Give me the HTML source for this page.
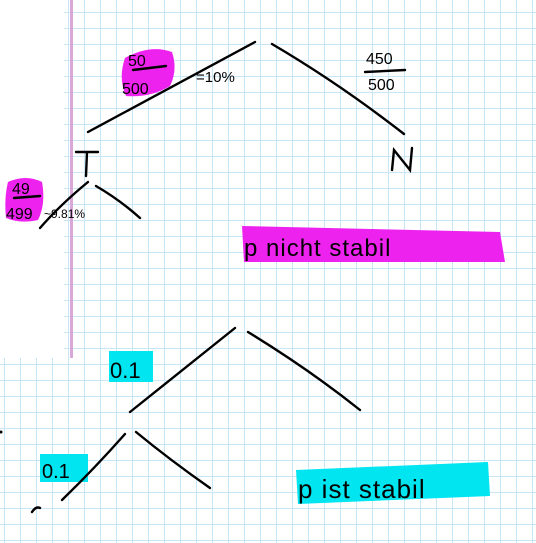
<!DOCTYPE html>
<html><head><style>
html,body{margin:0;padding:0;background:#fff;}
body{width:536px;height:543px;overflow:hidden;position:relative;
background-image:linear-gradient(to right,#c9e6f7 1px,transparent 1px),linear-gradient(to bottom,#c9e6f7 1px,transparent 1px);
background-size:16px 16px;background-position:4px 12px;}
.w{position:absolute;left:0;top:0;width:64px;height:358px;background:#fff;}
.pl{position:absolute;left:70px;top:0;width:3px;height:358px;background:#d8a8d8;}
svg{position:absolute;left:0;top:0;}
text{font-family:"Liberation Sans",sans-serif;fill:#000;}
</style></head><body>
<div class="w"></div><div class="pl"></div>
<svg width="536" height="543" viewBox="0 0 536 543">
<g fill="#ee22ee" stroke="none">
<path d="M125 58 Q150 44 172 52 Q178 70 170 86 Q150 98 126 96 Q118 78 125 58Z"/>
<path d="M8 182 Q26 174 42 182 Q46 204 38 220 Q20 224 6 218 Q4 198 8 182Z"/>
<path d="M242 226 L500 232 L505 262 L244 262Z"/>
</g>
<g fill="#00e5f0" stroke="none">
<rect x="109" y="351" width="44" height="31"/>
<rect x="40" y="454" width="48" height="28"/>
<path d="M296 470 L488 462 L490 496 L298 504Z"/>
</g>
<g stroke="#000" stroke-width="2.4" fill="none" stroke-linecap="round">
<path d="M255 42 Q170 88 88 132"/>
<path d="M272 44 Q340 84 404 134"/>
<path d="M88 182 Q60 205 40 228"/>
<path d="M96 186 Q120 200 140 218"/>
<path d="M235 328 Q180 372 130 412"/>
<path d="M248 332 Q310 370 360 410"/>
<path d="M125 434 Q95 468 62 500"/>
<path d="M136 432 Q170 460 210 488"/>
<path d="M76 152 L98 152 M87 152 L86 176"/>
<path d="M392 170 L394 150 L410 170 L412 148"/>
<path d="M133 70 L166 66"/>
<path d="M365 72 L405 70"/>
<path d="M14 198 L40 196"/>
<path d="M32 512 Q36 506 40 508"/>
</g>
<g font-size="16">
<text x="128" y="66">50</text>
<text x="122" y="94">500</text>
<text x="196" y="82" font-size="15">=10%</text>
<text x="366" y="64">450</text>
<text x="368" y="90">500</text>
<text x="12" y="194">49</text>
<text x="6" y="219">499</text>
<text x="44" y="218" font-size="12">~9.81%</text>
<text x="244" y="256" font-size="24" letter-spacing="1">p nicht stabil</text>
<text x="110" y="378" font-size="22">0.1</text>
<text x="42" y="478" font-size="20">0.1</text>
<text x="298" y="498" font-size="26" letter-spacing="1">p ist stabil</text>
</g>
<circle cx="1" cy="432" r="1.5" fill="#000"/>
</svg>
</body></html>
